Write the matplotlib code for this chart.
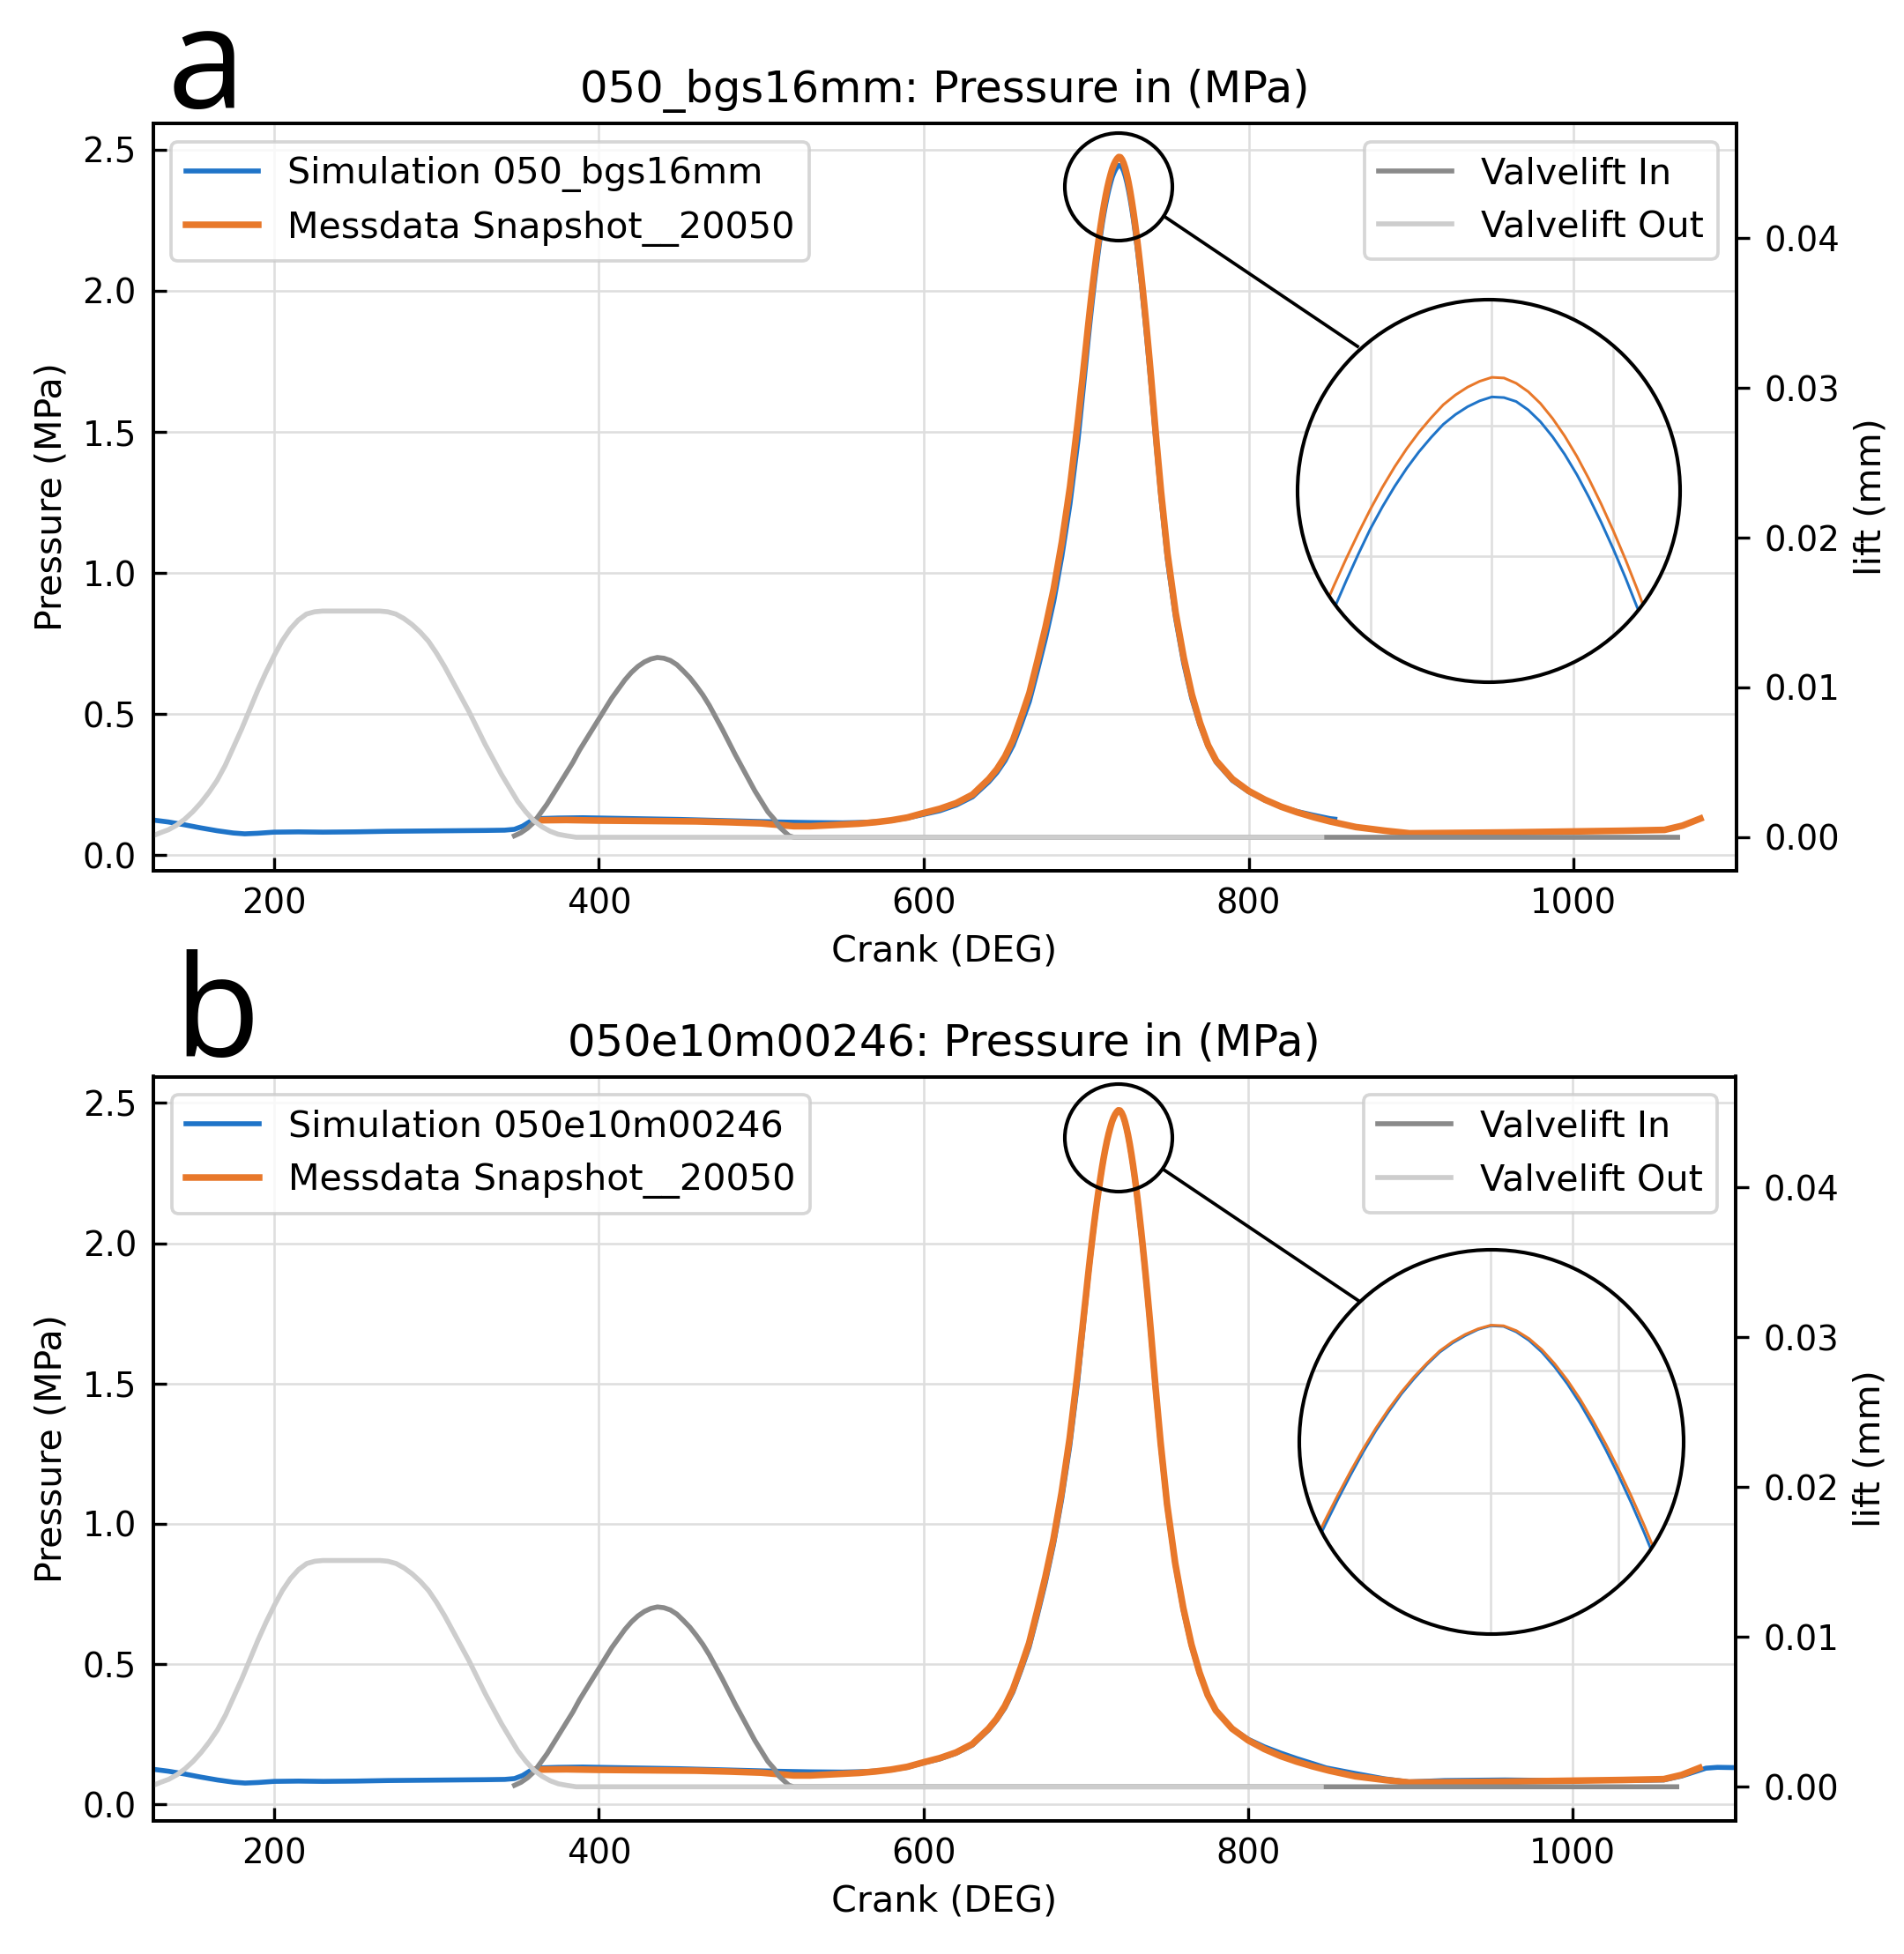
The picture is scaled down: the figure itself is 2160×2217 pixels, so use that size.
import numpy as np
import matplotlib
matplotlib.use("Agg")
import matplotlib.pyplot as plt
from matplotlib.patches import Circle, Ellipse
from matplotlib.lines import Line2D

# ---------------- data ----------------
PEAK_DEG = list(range(700, 741))  # 1-degree readings around the firing peak

# Simulation, common part (both panels)
sim_common_deg = [125.5, 135, 145, 155, 165, 175, 182, 190, 200, 215, 230, 250, 270, 290, 310,
                  330, 342, 348, 353, 358, 363, 375, 390, 410, 430, 450, 470, 490, 510, 530,
                  550, 565, 580, 590]
sim_common_p = [0.125, 0.118, 0.108, 0.097, 0.087, 0.079, 0.076, 0.078, 0.082, 0.083, 0.082, 0.083,
                0.085, 0.086, 0.087, 0.088, 0.089, 0.092, 0.103, 0.121, 0.130, 0.132, 0.133, 0.131,
                0.129, 0.127, 0.124, 0.121, 0.118, 0.116, 0.115, 0.117, 0.123, 0.132]

# Simulation 050_bgs16mm (panel a), from 600 deg
sim_a_deg = ([600, 610, 620, 630, 640, 645, 650, 655, 660, 665, 670, 675, 680, 685, 690, 695]
             + PEAK_DEG
             + [743, 746, 750, 755, 760, 765, 770, 775, 780, 790, 800, 810, 820, 830, 840, 850, 853])
sim_a_p = ([0.145, 0.158, 0.178, 0.207, 0.26, 0.293, 0.335, 0.39, 0.465, 0.545, 0.655, 0.77, 0.90,
            1.06, 1.245, 1.475]
           + [1.757, 1.815, 1.871, 1.925, 1.977, 2.027, 2.074, 2.119, 2.162, 2.203,
              2.242, 2.276, 2.307, 2.335, 2.360, 2.382, 2.402, 2.417, 2.429, 2.438,
              2.444, 2.443, 2.437, 2.424, 2.406, 2.383, 2.356, 2.325, 2.290, 2.252,
              2.211, 2.167, 2.120, 2.070, 2.018, 1.961, 1.904, 1.845, 1.784, 1.721,
              1.656]
           + [1.455, 1.265, 1.045, 0.84, 0.68, 0.555, 0.46, 0.385, 0.33, 0.265, 0.225, 0.195,
              0.172, 0.155, 0.142, 0.13, 0.128])

# Simulation 050e10m00246 (panel b), from 600 deg
sim_b_deg = ([600, 610, 620, 630, 640, 645, 650, 655, 660, 665, 670, 675, 680, 685, 690, 695]
             + PEAK_DEG
             + [743, 746, 750, 755, 760, 765, 770, 775, 780, 790, 800, 810, 820, 830, 840, 848,
                866, 884, 899, 921, 958, 994, 1031, 1056, 1067, 1082, 1089, 1100])
sim_b_p = ([0.148, 0.162, 0.182, 0.211, 0.265, 0.30, 0.343, 0.40, 0.478, 0.56, 0.672, 0.79, 0.925,
            1.085, 1.275, 1.51]
           + [1.797, 1.853, 1.907, 1.959, 2.009, 2.057, 2.103, 2.147, 2.189, 2.229,
              2.267, 2.302, 2.333, 2.362, 2.387, 2.410, 2.430, 2.445, 2.457, 2.467,
              2.473, 2.472, 2.463, 2.449, 2.430, 2.406, 2.378, 2.346, 2.310, 2.271,
              2.229, 2.184, 2.136, 2.085, 2.033, 1.978, 1.921, 1.862, 1.801, 1.738,
              1.673]
           + [1.465, 1.278, 1.06, 0.853, 0.69, 0.563, 0.465, 0.388, 0.335, 0.27, 0.232, 0.205,
              0.183, 0.163, 0.145, 0.13, 0.11, 0.091, 0.08, 0.085, 0.087, 0.085, 0.085, 0.087,
              0.101, 0.129, 0.132, 0.131])

# Messdata Snapshot__20050 (both panels)
meas_deg = ([361, 380, 400, 420, 440, 460, 480, 500, 510, 520, 530, 540, 550, 560, 570, 580, 590,
             600, 610, 620, 630, 640, 645, 650, 655, 660, 665, 670, 675, 680, 685, 690, 695]
            + PEAK_DEG
            + [743, 746, 750, 755, 760, 765, 770, 775, 780, 790, 800, 810, 820, 830, 840, 850,
               866, 884, 899, 921, 958, 994, 1031, 1056, 1067, 1078])
meas_p = ([0.124, 0.125, 0.123, 0.122, 0.121, 0.12, 0.117, 0.113, 0.108, 0.103, 0.103, 0.106, 0.109,
           0.112, 0.117, 0.124, 0.134, 0.15, 0.165, 0.185, 0.215, 0.27, 0.305, 0.35, 0.41, 0.49,
           0.575, 0.69, 0.81, 0.945, 1.11, 1.305, 1.545]
          + [1.812, 1.867, 1.920, 1.971, 2.020, 2.067, 2.112, 2.155, 2.196, 2.235,
             2.272, 2.306, 2.337, 2.365, 2.390, 2.412, 2.432, 2.447, 2.459, 2.468,
             2.474, 2.473, 2.465, 2.452, 2.434, 2.411, 2.384, 2.353, 2.318, 2.280,
             2.239, 2.195, 2.148, 2.098, 2.046, 1.991, 1.934, 1.875, 1.814, 1.751,
             1.686]
          + [1.48, 1.29, 1.07, 0.86, 0.70, 0.57, 0.47, 0.39, 0.335, 0.27, 0.228, 0.197, 0.172,
             0.152, 0.135, 0.12, 0.10, 0.087, 0.078, 0.079, 0.081, 0.084, 0.087, 0.09, 0.105,
             0.13])

# Valve lifts (mm)
lift_in_deg = [348, 352, 356, 360, 364, 368, 372, 376, 380, 384, 388, 392, 396, 400, 404, 408,
               412, 416, 420, 424, 428, 432, 436, 440, 444, 448, 452, 456, 460, 464, 468, 472,
               476, 480, 484, 488, 492, 496, 500, 504, 508, 511, 514, 517, 520, 1064]
lift_in = [0.0001, 0.0003, 0.0006, 0.0010, 0.0016, 0.0022, 0.0029, 0.0036, 0.0043, 0.0050,
           0.0058, 0.0065, 0.0072, 0.0079, 0.0086, 0.0093, 0.0099, 0.0105, 0.0110, 0.0114,
           0.0117, 0.0119, 0.0120, 0.01195, 0.0118, 0.01152, 0.0111, 0.01065, 0.0101, 0.0095,
           0.0088, 0.0080, 0.0072, 0.00635, 0.0055, 0.0047, 0.0039, 0.0031, 0.0024, 0.0017,
           0.0012, 0.0007, 0.0004, 0.0001, 0.0, 0.0]
lift_out_deg = [125.5, 130, 135, 140, 145, 150, 155, 160, 165, 170, 175, 180, 185, 190, 195, 200,
                205, 210, 215, 220, 225, 230, 265, 270, 275, 280, 285, 290, 295, 300, 305, 310,
                315, 320, 325, 330, 335, 340, 345, 350, 355, 360, 365, 370, 375, 380, 386, 845]
lift_out = [0.0001, 0.0003, 0.0005, 0.0008, 0.0012, 0.0017, 0.0023, 0.0030, 0.0038, 0.0048,
            0.0060, 0.0072, 0.0085, 0.0098, 0.0110, 0.0121, 0.0131, 0.0139, 0.0145, 0.0149,
            0.01505, 0.0151, 0.0151, 0.01505, 0.0149, 0.0146, 0.0142, 0.0137, 0.0131, 0.0123,
            0.0114, 0.0104, 0.0094, 0.0084, 0.0073, 0.0062, 0.0052, 0.0042, 0.0033, 0.0024,
            0.0017, 0.0011, 0.0007, 0.0004, 0.0002, 0.0001, 0.0, 0.0]

# ---------------- style ----------------
C_SIM = "#1f74c8"
C_MEAS = "#e8782a"
C_IN = "#8a8a8a"
C_OUT = "#cdcdcd"
C_GRID = "#dedede"

W, H = 2160, 2217
DPI = 270
fig = plt.figure(figsize=(W / DPI, H / DPI), dpi=DPI)


def fx(x):
    return x / W


def fy(y):
    return 1 - y / H


panels = [
    dict(label="a", label_pos=(190, 122),
         title="050_bgs16mm: Pressure in (MPa)", sim_label="Simulation 050_bgs16mm",
         sim_deg=sim_common_deg + sim_a_deg, sim_p=sim_common_p + sim_a_p,
         box=(173.5, 140, 1969.5, 987.7), xlim=(125.5, 1100),
         ylim=(-0.054, 2.593), ylim2=(-0.00222, 0.04765),
         small=(1269, 212, 61), big=(1689, 557, 217), conn=((1323, 247), (1540, 393)),
         in_xlim=(704, 735.5), in_ylim=(2.007, 2.593)),
    dict(label="b", label_pos=(197, 1198),
         title="050e10m00246: Pressure in (MPa)", sim_label="Simulation 050e10m00246",
         sim_deg=sim_common_deg + sim_b_deg, sim_p=sim_common_p + sim_b_p,
         box=(174, 1221.5, 1968.5, 2065.7), xlim=(125.5, 1100),
         ylim=(-0.058, 2.594), ylim2=(-0.00226, 0.04739),
         small=(1269, 1291, 61), big=(1692, 1636, 218), conn=((1320, 1327), (1543, 1477)),
         in_xlim=(705, 735.1), in_ylim=(1.97, 2.597)),
]

for P in panels:
    l, t, r, b = P["box"]
    ax = fig.add_axes([fx(l), fy(b), (r - l) / W, (b - t) / H])
    ax.plot(P["sim_deg"], P["sim_p"], color=C_SIM, lw=1.5, label=P["sim_label"])
    ax.plot(meas_deg, meas_p, color=C_MEAS, lw=2.0, label="Messdata Snapshot__20050")
    ax.set_xlim(*P["xlim"])
    ax.set_ylim(*P["ylim"])
    ax.grid(True, color=C_GRID, lw=0.7)
    ax.set_axisbelow(True)
    ax.tick_params(direction="in", length=4, width=0.9, labelsize=10.3, pad=5)
    for s in ax.spines.values():
        s.set_linewidth(1.0)
    ax.set_xlabel("Crank (DEG)", fontsize=11)
    ax.set_ylabel("Pressure (MPa)", fontsize=11)
    ax.set_title(P["title"], fontsize=13.2, pad=6.5)
    ax.legend(loc="upper left", fontsize=11)

    ax2 = ax.twinx()
    ax2.plot(lift_in_deg, lift_in, color=C_IN, lw=1.5, label="Valvelift In")
    ax2.plot(lift_out_deg, lift_out, color=C_OUT, lw=1.5, label="Valvelift Out")
    ax2.set_ylim(*P["ylim2"])
    ax2.set_xlim(*P["xlim"])
    ax2.tick_params(direction="out", length=4, width=0.9, labelsize=10.3, pad=4.5)
    for s in ax2.spines.values():
        s.set_linewidth(1.0)
    ax2.set_ylabel("lift (mm)", fontsize=11)
    ax2.legend(loc="upper right", fontsize=11)

    # panel letter
    fig.text(fx(P["label_pos"][0]), fy(P["label_pos"][1]), P["label"], fontsize=42.5,
             family=["Open Sans", "DejaVu Sans"], ha="left", va="baseline")

    # small circle around the peak and the connector
    sx, sy, sr = P["small"]
    fig.add_artist(Ellipse((fx(sx), fy(sy)), 2 * sr / W, 2 * sr / H, transform=fig.transFigure,
                           fill=False, edgecolor="black", lw=1.1, zorder=5))
    (x1, y1), (x2, y2) = P["conn"]
    fig.add_artist(Line2D([fx(x1), fx(x2)], [fy(y1), fy(y2)], transform=fig.transFigure,
                          color="black", lw=1.0, zorder=5))

    # magnified circular inset
    cx, cy, cr = P["big"]
    axi = fig.add_axes([fx(cx - cr), fy(cy + cr), 2 * cr / W, 2 * cr / H], zorder=10)
    axi.axis("off")
    axi.set_xlim(*P["in_xlim"])
    axi.set_ylim(*P["in_ylim"])
    bg = Circle((0.5, 0.5), 0.5, transform=axi.transAxes, facecolor="white",
                edgecolor="none", zorder=0)
    axi.add_patch(bg)
    for v in [710, 720, 730]:
        axi.axvline(v, color=C_GRID, lw=0.7, zorder=1, clip_path=bg)
    for v in [2.2, 2.4]:
        axi.axhline(v, color=C_GRID, lw=0.7, zorder=1, clip_path=bg)
    axi.plot(P["sim_deg"], P["sim_p"], color=C_SIM, lw=0.8, zorder=2, clip_path=bg)
    axi.plot(meas_deg, meas_p, color=C_MEAS, lw=0.8, zorder=3, clip_path=bg)
    axi.add_patch(Circle((0.5, 0.5), 0.5, transform=axi.transAxes, fill=False,
                         edgecolor="black", lw=1.1, zorder=6, clip_on=False))

fig.savefig("out.png", dpi=DPI)
